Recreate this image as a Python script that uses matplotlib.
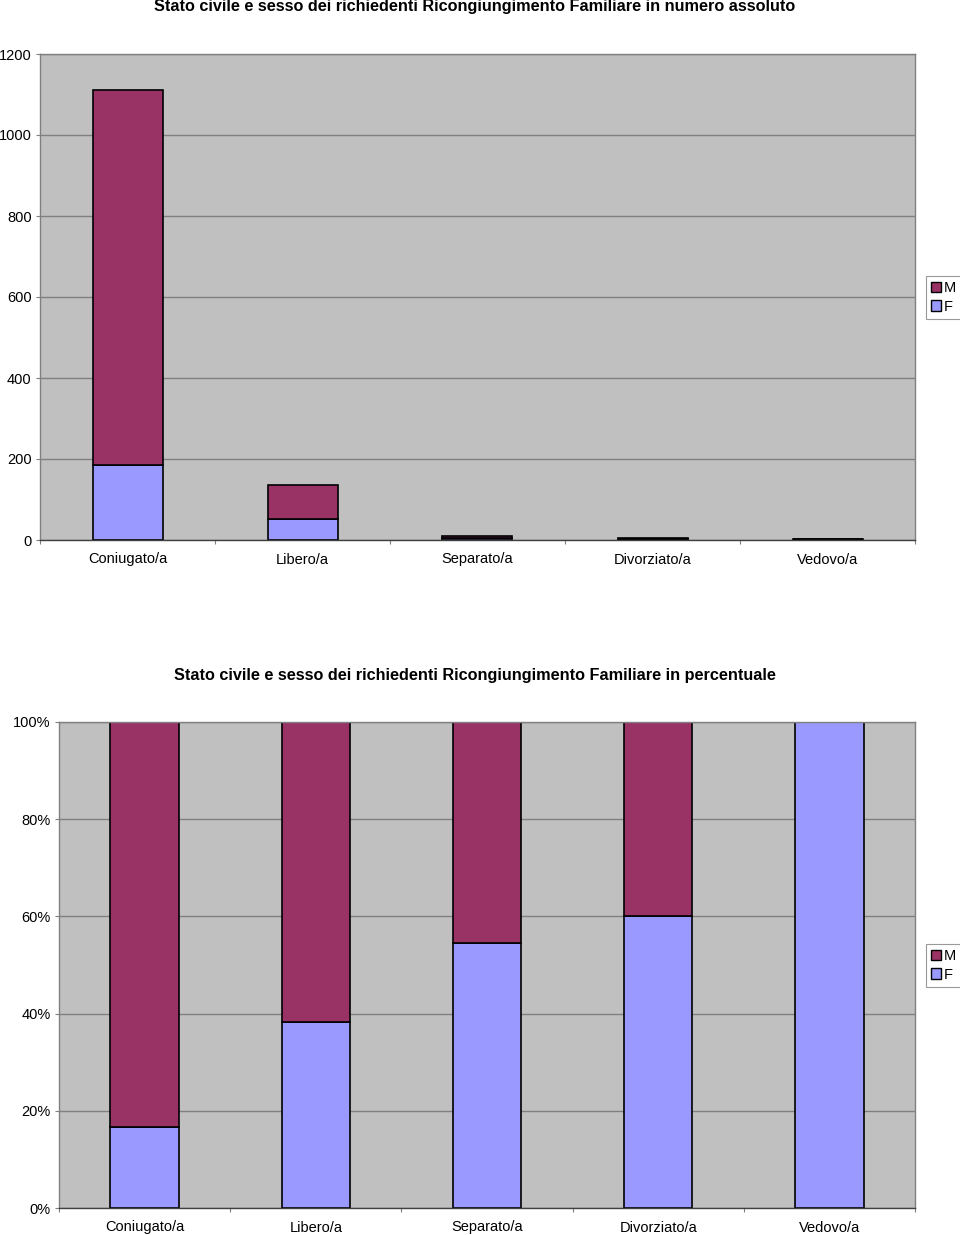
import matplotlib.pyplot as plt
import numpy as np

plt.rcParams['font.family'] = ['Liberation Sans', 'DejaVu Sans']

categories = ['Coniugato/a', 'Libero/a', 'Separato/a', 'Divorziato/a', 'Vedovo/a']
female = [185, 52, 6, 3, 3]
male = [927, 84, 5, 2, 0]

W, H = 960, 1235
fig = plt.figure(figsize=(W / 100, H / 100), dpi=100)

col_m = '#993366'
col_f = '#9999FF'


def px_axes(left, top, right, bottom):
    return fig.add_axes([left / W, 1 - bottom / H, (right - left) / W, (bottom - top) / H])


def style(ax, ymax, yticks, ylabels):
    n = len(categories)
    ax.set_facecolor('#C0C0C0')
    ax.set_xlim(0, n)
    ax.set_ylim(0, ymax)
    ax.set_yticks(yticks)
    ax.set_yticklabels(ylabels, fontsize=10.5)
    ax.yaxis.grid(True, color='#808080', linewidth=1)
    ax.set_axisbelow(True)
    ax.set_xticks(np.arange(n + 1), minor=False)
    ax.set_xticklabels([])
    ax.set_xticks(np.arange(n) + 0.5, minor=True)
    ax.set_xticklabels(categories, minor=True, fontsize=10.5)
    ax.tick_params(axis='x', which='minor', length=0, pad=9)
    ax.tick_params(axis='x', which='major', length=3, color='#808080')
    ax.tick_params(axis='y', length=3, color='#808080', pad=3)
    for s in ax.spines.values():
        s.set_color('#808080')
        s.set_linewidth(1)
    ax.spines['bottom'].set_color('#404040')


def legend(ax, y):
    h = [plt.Rectangle((0, 0), 1, 1, facecolor=col_m, edgecolor='black'),
         plt.Rectangle((0, 0), 1, 1, facecolor=col_f, edgecolor='black')]
    leg = fig.legend(h, ['M', 'F'], loc='center left', bbox_to_anchor=(926 / W, 1 - y / H),
                     fontsize=10.5, frameon=True, fancybox=False, handlelength=0.7,
                     handleheight=0.7, handletextpad=0.2, borderpad=0.35,
                     labelspacing=0.3, borderaxespad=0)
    leg.get_frame().set_edgecolor('#808080')
    leg.get_frame().set_linewidth(0.8)


x = np.arange(len(categories)) + 0.5

# grafico in numero assoluto
ax1 = px_axes(40, 54, 915, 540)
ax1.bar(x, female, width=0.4, color=col_f, edgecolor='black', linewidth=1.2)
ax1.bar(x, male, width=0.4, bottom=female, color=col_m, edgecolor='black', linewidth=1.2)
style(ax1, 1200, range(0, 1201, 200), [str(v) for v in range(0, 1201, 200)])
fig.text(475 / W, 1 - 7 / H,
         'Stato civile e sesso dei richiedenti Ricongiungimento Familiare in numero assoluto',
         ha='center', va='center', fontsize=11.7, fontweight='bold')
legend(ax1, 297.5)

# grafico in percentuale
tot = np.array(female) + np.array(male)
f_pct = np.array(female) / tot * 100
m_pct = np.array(male) / tot * 100
ax2 = px_axes(59, 722, 915, 1208)
ax2.bar(x, f_pct, width=0.4, color=col_f, edgecolor='black', linewidth=1.2)
ax2.bar(x, m_pct, width=0.4, bottom=f_pct, color=col_m, edgecolor='black', linewidth=1.2)
style(ax2, 100, range(0, 101, 20), ['%d%%' % v for v in range(0, 101, 20)])
fig.text(475 / W, 1 - 675 / H,
         'Stato civile e sesso dei richiedenti Ricongiungimento Familiare in percentuale',
         ha='center', va='center', fontsize=11.7, fontweight='bold')
legend(ax2, 965.5)

fig.savefig('out.png', dpi=100)
